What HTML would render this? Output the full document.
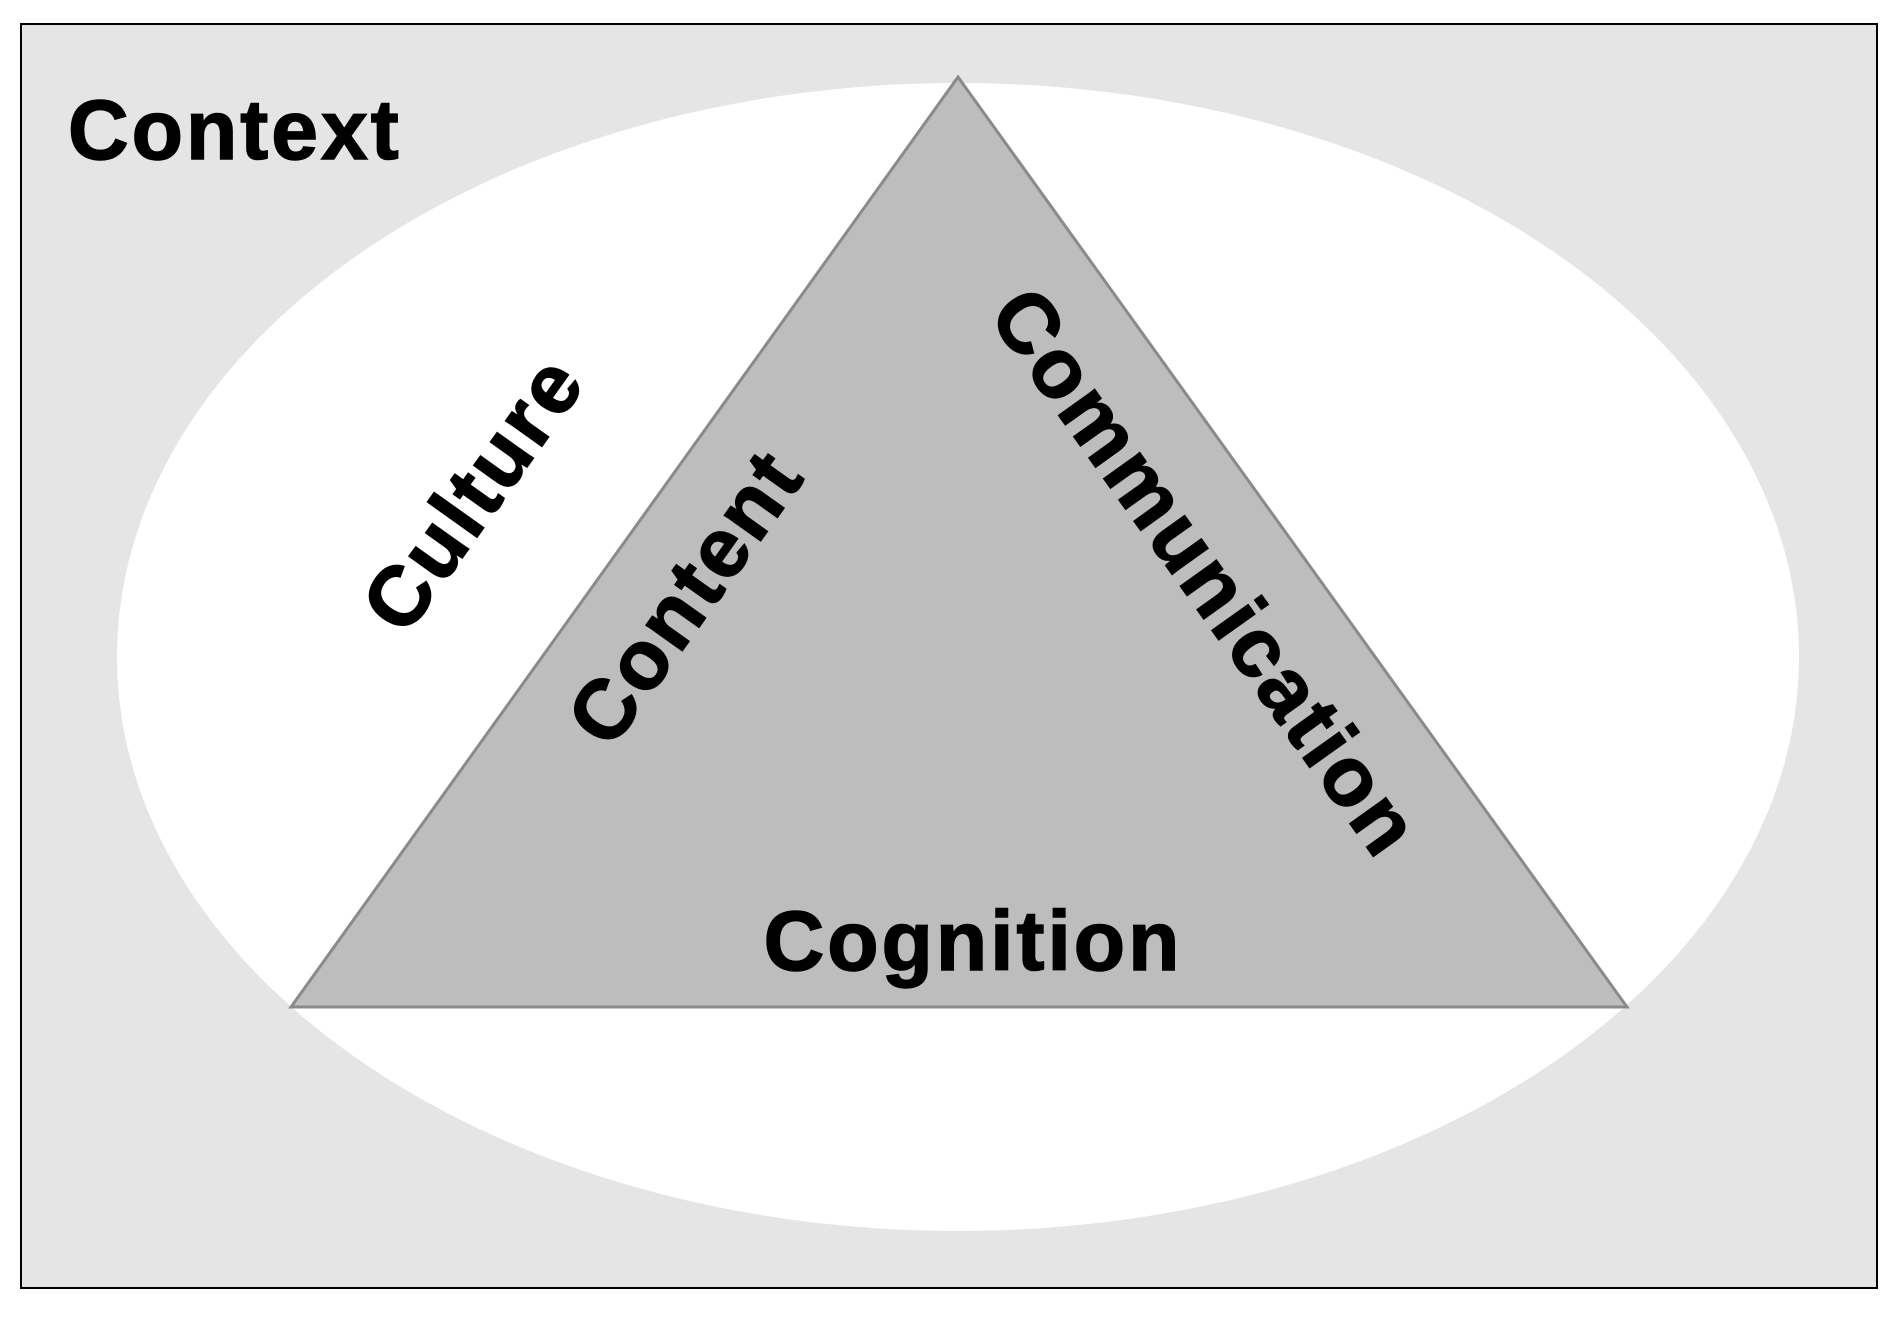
<!DOCTYPE html>
<html><head><style>body{margin:0;background:#fff}</style></head><body>
<svg width="1900" height="1320" xmlns="http://www.w3.org/2000/svg" style="display:block">
<rect x="21" y="24" width="1856" height="1264" fill="#e6e5e6" stroke="#000" stroke-width="2"/>
<ellipse cx="958" cy="657" rx="841" ry="574" fill="#fff"/>
<polygon points="958,77 291,1007 1627,1007" fill="#bdbdbd" stroke="#8a8a8a" stroke-width="3"/>
<g font-family="Liberation Sans, Arial, sans-serif" font-weight="bold" font-size="84" fill="#000" letter-spacing="3" stroke="#000" stroke-width="1.5">
<text x="68" y="159">Context</text>
<text x="973" y="970" text-anchor="middle">Cognition</text>
<text transform="translate(473,493) rotate(-54.5)" text-anchor="middle" dy="29">Culture</text>
<text transform="translate(685,597) rotate(-54.5)" text-anchor="middle" dy="29">Content</text>
<text transform="translate(1206,572) rotate(54.5)" text-anchor="middle" dy="29">Communication</text>
</g>
</svg>
</body></html>
